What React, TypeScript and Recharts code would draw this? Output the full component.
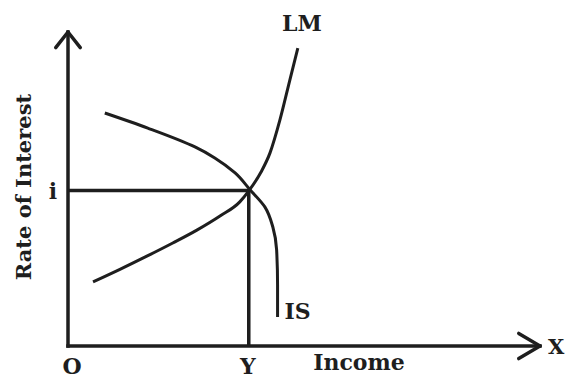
import { ComposedChart, Line, XAxis, YAxis, ReferenceLine, ReferenceDot } from "recharts";

const lmIncome = [5.3, 11.0, 16.7, 22.2, 27.3, 32.2, 36.4, 38.3, 40.9, 42.8, 44.9, 47.0, 48.7];
const lmRate = [20.4, 24.4, 28.6, 32.8, 36.9, 41.4, 45.9, 49.4, 55.4, 61.5, 72.0, 84.7, 94.9];

const isIncome = [7.8, 16.9, 26.9, 31.1, 35.4, 38.6, 41.7, 43.4, 44.2, 44.4, 44.4];
const isRate = [74.2, 69.4, 63.4, 59.9, 55.1, 49.7, 44.3, 37.9, 30.6, 19.4, 9.2];

const eqIncome = 38.3;
const eqRate = 49.5;

const xTicks = [0, eqIncome];
const xTickText = ["O", "Y"];
const yTicks = [eqRate];
const yTickText = ["i"];

// arrow heads at the ends of the axes
const xArrow = [
  { x: 95.5, y: 4 },
  { x: 100, y: 0 },
  { x: 95.5, y: -4 },
];
const yArrow = [
  { x: -2.6, y: 95 },
  { x: 0, y: 100 },
  { x: 2.6, y: 95 },
];

const lmData = lmIncome.map((income, i) => ({ income, rate: lmRate[i] }));
const isData = isIncome.map((income, i) => ({ income, rate: isRate[i] }));

const INK = "#1e1e1e";
const FONT = "'DejaVu Serif', serif";
const textStyle = { fill: INK, fontFamily: FONT, fontWeight: 700, fontSize: 22 };

const XTick = (p: any) => {
  const i = xTicks.indexOf(p.payload.value);
  const dx = i === 0 ? 4 : -1;
  return (
    <text x={p.x + dx} y={p.y + 28} textAnchor="middle" {...textStyle}>
      {xTickText[i]}
    </text>
  );
};

const YTick = (p: any) => {
  const i = yTicks.indexOf(p.payload.value);
  return (
    <text x={p.x - 15} y={p.y + 8} textAnchor="middle" {...textStyle}>
      {yTickText[i]}
    </text>
  );
};

const pointLabel = (text: string, dx: number, dy: number, anchor: string, size = 22) => (p: any) => {
  const vb = p.viewBox;
  return (
    <text x={vb.x + dx} y={vb.y + dy} textAnchor={anchor} {...textStyle} fontSize={size}>
      {text}
    </text>
  );
};

const arrowSegs = (pts: { x: number; y: number }[]) =>
  pts.slice(1).map((p, i) => [pts[i], p]);

export default function App() {
  const lmEnd = lmData[lmData.length - 1];
  const isEnd = isData[isData.length - 1];

  return (
    <div style={{ position: "absolute", left: 0, top: 0, background: "#fff" }}>
      <ComposedChart width={566} height={378} margin={{ top: 32, right: 26, left: 8, bottom: 0 }}>
        <XAxis
          type="number"
          dataKey="income"
          domain={[0, 100]}
          ticks={xTicks}
          tick={XTick}
          tickLine={false}
          tickSize={0}
          tickMargin={0}
          height={32}
          axisLine={{ stroke: INK, strokeWidth: 3.5, strokeLinecap: "square" }}
          label={(p: any) => {
            const vb = p.viewBox;
            return (
              <text x={vb.x + 291} y={vb.y + 24} textAnchor="middle" {...textStyle}>
                Income
              </text>
            );
          }}
        />
        <YAxis
          type="number"
          dataKey="rate"
          domain={[0, 100]}
          ticks={yTicks}
          tick={YTick}
          tickLine={false}
          tickSize={0}
          tickMargin={0}
          width={60}
          axisLine={{ stroke: INK, strokeWidth: 3.5, strokeLinecap: "square" }}
          label={(p: any) => {
            const vb = p.viewBox;
            const cx = vb.x + 15;
            const cy = vb.y + vb.height / 2 - 2;
            return (
              <text
                x={cx}
                y={cy}
                textAnchor="middle"
                dominantBaseline="central"
                transform={`rotate(-90 ${cx} ${cy})`}
                {...textStyle}
                fontSize={21}
              >
                Rate of Interest
              </text>
            );
          }}
        />

        {[...arrowSegs(xArrow), ...arrowSegs(yArrow)].map((seg, i) => (
          <ReferenceLine
            key={`arrow-${i}`}
            segment={seg}
            ifOverflow="visible"
            stroke={INK}
            strokeWidth={3.5}
            strokeLinecap="round"
          />
        ))}

        <ReferenceLine
          segment={[
            { x: 0, y: eqRate },
            { x: eqIncome, y: eqRate },
          ]}
          ifOverflow="visible"
          stroke={INK}
          strokeWidth={3.5}
        />
        <ReferenceLine
          segment={[
            { x: eqIncome, y: 0 },
            { x: eqIncome, y: eqRate },
          ]}
          ifOverflow="visible"
          stroke={INK}
          strokeWidth={3.5}
        />

        <Line
          data={lmData}
          dataKey="rate"
          type="monotoneX"
          stroke={INK}
          strokeWidth={3}
          dot={false}
          activeDot={false}
          isAnimationActive={false}
        />
        <Line
          data={isData}
          dataKey="rate"
          type="monotoneY"
          stroke={INK}
          strokeWidth={3}
          dot={false}
          activeDot={false}
          isAnimationActive={false}
        />

        <ReferenceDot
          x={lmEnd.income}
          y={lmEnd.rate}
          r={0}
          ifOverflow="visible"
          fill="none"
          stroke="none"
          label={pointLabel("LM", 4, -17, "middle")}
        />
        <ReferenceDot
          x={isEnd.income}
          y={isEnd.rate}
          r={0}
          ifOverflow="visible"
          fill="none"
          stroke="none"
          label={pointLabel("IS", 7, 2, "start")}
        />
        <ReferenceDot
          x={100}
          y={0}
          r={0}
          ifOverflow="visible"
          fill="none"
          stroke="none"
          label={pointLabel("X", 8, 8, "start", 21)}
        />
      </ComposedChart>
    </div>
  );
}
